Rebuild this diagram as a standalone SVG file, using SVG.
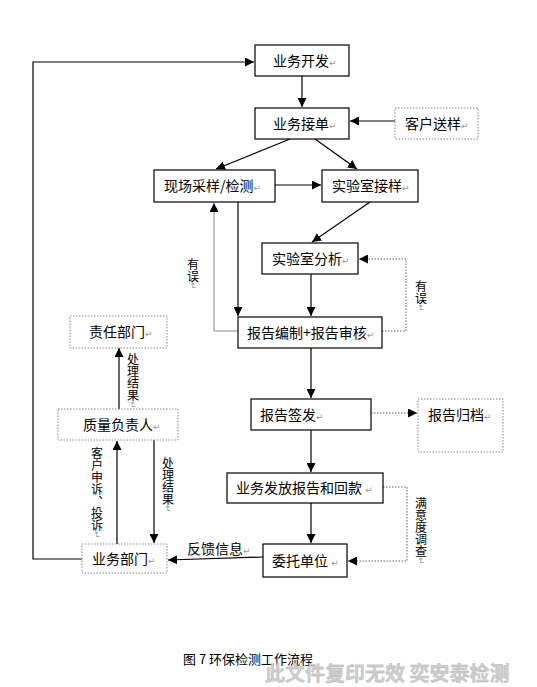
<svg xmlns="http://www.w3.org/2000/svg" width="537" height="687" viewBox="0 0 537 687">
<style>
text{font-family:"Noto Sans CJK SC","Liberation Sans",sans-serif;font-size:14px;fill:#000}
.b{fill:#fff;stroke:#000;stroke-width:1.2}
.d{fill:#fff;stroke:#888;stroke-width:1;stroke-dasharray:1.5 1.5}
.l{fill:none;stroke:#000;stroke-width:1.2}
.g{fill:none;stroke:#888;stroke-width:1}
.dl{fill:none;stroke:#666;stroke-width:1;stroke-dasharray:1.5 1.5}
.pm{font-family:"DejaVu Sans",sans-serif;font-size:9px;fill:#999}
.v{font-size:12px;writing-mode:vertical-rl}
.cap{font-size:13px}
.wm{font-size:20px;font-weight:bold;fill:#cdcdcd;stroke:#b0b0b0;stroke-width:0.3}
</style>
<defs>
<marker id="a" viewBox="0 0 10 10" refX="10" refY="5" markerWidth="9" markerHeight="9" markerUnits="userSpaceOnUse" orient="auto"><path d="M0,0L10,5L0,10z" fill="#000"/></marker>
</defs>
<rect width="537" height="687" fill="#fff"/>
<g id="connectors">
<path class="l" d="M302,76V107" marker-end="url(#a)"/>
<path class="l" d="M395,121H350" marker-end="url(#a)"/>
<path class="l" d="M290,139L216,169" marker-end="url(#a)"/>
<path class="l" d="M315,139L357,169" marker-end="url(#a)"/>
<path class="l" d="M275,185H321" marker-end="url(#a)"/>
<path class="l" d="M370,202L312,242" marker-end="url(#a)"/>
<path class="l" d="M311,274V316" marker-end="url(#a)"/>
<path class="l" d="M238,202V316" marker-end="url(#a)"/>
<path class="g" d="M238,331H214V203" marker-end="url(#a)"/>
<path class="dl" d="M382,331H406V259H359" marker-end="url(#a)"/>
<path class="l" d="M311,348V398" marker-end="url(#a)"/>
<path class="dl" d="M371,413H417" marker-end="url(#a)"/>
<path class="l" d="M311,430V472" marker-end="url(#a)"/>
<path class="l" d="M311,503V543" marker-end="url(#a)"/>
<path class="dl" d="M383,487H407V561H348" marker-end="url(#a)"/>
<path class="l" d="M263,557L168,560" marker-end="url(#a)"/>
<path class="l" d="M82,559H33V62H254" marker-end="url(#a)"/>
<path class="l" d="M117,544V441" marker-end="url(#a)"/>
<path class="l" d="M154,440V543" marker-end="url(#a)"/>
<path class="l" d="M119,409V348" marker-end="url(#a)"/>
<text x="187" y="554" font-size="13">反馈信息<tspan class="pm">↵</tspan></text>
<text class="v" x="193" y="258" font-size="13">有误<tspan class="pm">↵</tspan></text>
<text class="v" x="421" y="280" font-size="13">有误<tspan class="pm">↵</tspan></text>
<text class="v" x="133" y="353">处理结果<tspan class="pm">↵</tspan></text>
<text class="v" x="97" y="447">客户申诉、投诉<tspan class="pm">↵</tspan></text>
<text class="v" x="168" y="457">处理结果<tspan class="pm">↵</tspan></text>
<text class="v" x="421" y="497">满意度调查<tspan class="pm">↵</tspan></text>
</g>
<g id="n1"><rect class="b" x="255" y="45" width="94" height="31"/><text x="273" y="66">业务开发<tspan class="pm">↵</tspan></text></g>
<g id="n2"><rect class="b" x="255" y="108" width="94" height="31"/><text x="273" y="129">业务接单<tspan class="pm">↵</tspan></text></g>
<g id="n3"><rect class="d" x="395" y="108" width="83" height="31"/><text x="405" y="129">客户送样<tspan class="pm">↵</tspan></text></g>
<g id="n4"><rect class="b" x="154" y="170" width="121" height="32"/><text x="164" y="191">现场采样/检测<tspan class="pm">↵</tspan></text></g>
<g id="n5"><rect class="b" x="322" y="170" width="96" height="32"/><text x="332" y="191">实验室接样<tspan class="pm">↵</tspan></text></g>
<g id="n6"><rect class="b" x="262" y="243" width="96" height="31"/><text x="272" y="264">实验室分析<tspan class="pm">↵</tspan></text></g>
<g id="n7"><rect class="b" x="238" y="317" width="144" height="31"/><text x="247" y="338">报告编制+报告审核<tspan class="pm">↵</tspan></text></g>
<g id="n8"><rect class="d" x="70" y="316" width="97" height="32"/><text x="89" y="337">责任部门<tspan class="pm">↵</tspan></text></g>
<g id="n9"><rect class="d" x="58" y="409" width="120" height="31"/><text x="83" y="430">质量负责人<tspan class="pm">↵</tspan></text></g>
<g id="n10"><rect class="b" x="251" y="399" width="120" height="31"/><text x="260" y="420">报告签发<tspan class="pm">↵</tspan></text></g>
<g id="n11"><rect class="d" x="418" y="399" width="85" height="53"/><text x="428" y="420">报告归档<tspan class="pm">↵</tspan></text></g>
<g id="n12"><rect class="b" x="227" y="473" width="156" height="30"/><text x="236" y="493">业务发放报告和回款 <tspan class="pm">↵</tspan></text></g>
<g id="n13"><rect class="b" x="263" y="544" width="84" height="33"/><text x="272" y="566">委托单位 <tspan class="pm">↵</tspan></text></g>
<g id="n14"><rect class="d" x="82" y="544" width="85" height="29"/><text x="92" y="564">业务部门<tspan class="pm">↵</tspan></text></g>
<text class="cap" x="183" y="664">图 7 环保检测工作流程</text>
<text class="wm" x="265" y="681">此文件复印无效 奕安泰检测</text>
</svg>
